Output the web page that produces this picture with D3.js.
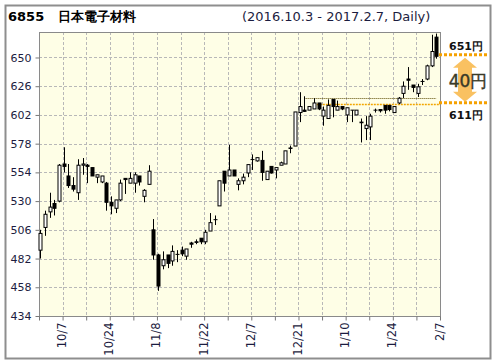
<!DOCTYPE html>
<html>
<head>
<meta charset="utf-8">
<script src="https://cdn.jsdelivr.net/npm/d3@7"></script>
<style>
body{margin:0;background:#fff}
svg{display:block}
text{font-family:"DejaVu Sans",Verdana,sans-serif}
</style>
</head>
<body>
<div id="vis"></div>
<script>
// trading days 2016.10.3 - 2017.2.7
var dates = ["10/3","10/4","10/5","10/6","10/7","10/11","10/12","10/13","10/14","10/17",
  "10/18","10/19","10/20","10/21","10/24","10/25","10/26","10/27","10/28","10/31",
  "11/1","11/2","11/4","11/7","11/8","11/9","11/10","11/11","11/14","11/15",
  "11/16","11/17","11/18","11/21","11/22","11/24","11/25","11/28","11/29","11/30",
  "12/1","12/2","12/5","12/6","12/7","12/8","12/9","12/12","12/13","12/14",
  "12/15","12/16","12/19","12/20","12/21","12/22","12/26","12/27","12/28","12/29",
  "12/30","1/4","1/5","1/6","1/10","1/11","1/12","1/13","1/16","1/17",
  "1/18","1/19","1/20","1/23","1/24","1/25","1/26","1/27","1/30","1/31",
  "2/1","2/2","2/3","2/6","2/7"]

var open  = [489,508,521,528,530,561,551,543,537,560, 560,558,550,546,545,529,524,531,549,545,
             545,551,534,544,506,485,476,485,480,485.5, 489,484,495,496,499,496,505,514.5,526,555,
             551,556,544,547,553.5,564.7,563.6,564,548,559, 556,560,561,574.4,576,604,606,606,607,612,
             601,599,615,606,609,602,606,602,596,590.6, 592,606,606.5,610,610,604,612,620,632,627,
             620,630,632,643,667]
var high  = [506,522,537,531,561,575,561,550,565,566, 561,558,552,551,546,534,531,548,549,554,
             554,551,540,560,515,486,488,485,493,489, 492,490,496,498,499,506,520,518,547,555,
             577,556,549,553,560.5,569,566.3,572,555,559, 558,563,572,576.4,604.5,621,617.6,609,616,612,
             609,615,615,614,609,608,606,606,599,601, 603,607.3,606.5,610,610,609,617,630,642,627,
             628,632,644,669,670]
var low   = [482,501,516,518,529,554,541,538,531,552, 545,551,545,545,522,519,520,530,536,545,
             537,543,529,544,481,455,473,474,476,479, 484,481,491,494,494,494,505,510,526,538,
             551,551,539,544,550,556,563,547,548,553, 549,560,561,570,576,596,604.5,606,607,606,
             593,599,600,606,606,596,596,602,579,581, 581,604,604,603,605,604,611,616,623,621,
             617,627,631,642,649]
var close = [503,519,525,524,560,559,543,540,560,561, 559,551,552,551,529,526,531,545,548,549,
             552,546,539,555,485,459,481,478,488,485.5, 486,490,494,495.5,496,504,512,514.5,547,545,
             556,551,547,550,560.5,564.7,566.3,554,555,553.5, 558,562,572,574,604.5,609,605,609,612,607,
             606,610,609,609,607,608,606,606,595.5,593.4, 601,606,605.5,606,606.5,609,616,626,631,625,
             625.5,630,643,655,651]

var yTicks = [434,458,482,506,530,554,578,602,626,650]
// dotted price levels drawn inside the plot
var levelPrice = [616.5, 611]
var levelStart = [56, 58]
var rangeHi = 651, rangeLo = 611

var w = 496, h = 364
var pLeft = 39, pRight = 440, pTop = 32, pBottom = 316

var svg = d3.select("#vis").append("svg")
    .attr("width", w)
    .attr("height", h)

// outer frame
svg.append("rect")
   .attr("x", 5.5).attr("y", 5.5)
   .attr("width", 485).attr("height", 353)
   .attr("fill", "#fff")
   .attr("stroke", "#8e8e8e")
   .attr("stroke-width", 2)

const x = d3.scaleLinear()
    .domain([-0.25, dates.length - 0.25])
    .range([pLeft, pRight])
const y = d3.scaleLinear()
    .domain([434, 671.3])
    .range([pBottom, pTop])

// tick slots every 5 trading days, sitting on the right edge of a candle slot
var tickPos = d3.range(-1, dates.length, 5).map(d => d + 0.75)

svg.append("rect")
   .attr("x", pLeft).attr("y", pTop)
   .attr("width", pRight - pLeft).attr("height", pBottom - pTop)
   .attr("fill", "#fefee6")

var grid = svg.append("g")
   .attr("stroke", "#b8b8b8")
   .attr("stroke-dasharray", "3,2")
grid.selectAll(".vg")
   .data(tickPos.slice(1, -1))
   .enter().append("line")
   .attr("x1", d => Math.round(x(d)) + 0.5).attr("x2", d => Math.round(x(d)) + 0.5)
   .attr("y1", pTop).attr("y2", pBottom)
grid.selectAll(".hg")
   .data(yTicks.slice(1))
   .enter().append("line")
   .attr("x1", pLeft).attr("x2", pRight)
   .attr("y1", d => Math.round(y(d)) + 0.5).attr("y2", d => Math.round(y(d)) + 0.5)

svg.append("rect")
   .attr("x", pLeft + 0.5).attr("y", pTop + 0.5)
   .attr("width", pRight - pLeft).attr("height", pBottom - pTop)
   .attr("fill", "none")
   .attr("stroke", "#8a8a8a")

// axes
const yAxis = svg.append("g")
   .attr("transform", `translate(${pLeft + 0.5},0)`)
   .call(d3.axisLeft(y).tickValues(yTicks).tickSize(4).tickPadding(4))
yAxis.select(".domain").remove()
yAxis.selectAll("line").attr("stroke", "#777")
yAxis.selectAll("text")
   .attr("fill", "#1c1c40")
   .style("font-size", "11px")
   .style("font-family", "DejaVu Sans, Verdana, sans-serif")

const xAxis = svg.append("g")
   .attr("transform", `translate(0,${pBottom + 0.5})`)
   .call(d3.axisBottom(x).tickValues(tickPos).tickSize(4)
      .tickFormat(d => {
          var k = Math.round(d - 0.75)
          return (k >= 4 && (k - 4) % 10 == 0) ? dates[k] : ""
      }))
xAxis.select(".domain").remove()
xAxis.selectAll("line").attr("stroke", "#777")
xAxis.selectAll("text")
   .attr("fill", "#1c1c40")
   .attr("transform", "rotate(-90)")
   .attr("x", -6)
   .attr("y", -1)
   .attr("dy", "0.35em")
   .style("text-anchor", "end")
   .style("font-size", "11.5px")
   .style("font-family", "DejaVu Sans, Verdana, sans-serif")

// price levels
svg.selectAll(".lvl")
   .data(levelPrice)
   .enter().append("line")
   .attr("x1", (d, i) => x(levelStart[i]))
   .attr("x2", (d, i) => i == 0 ? x(dates.length - 1) : pRight)
   .attr("y1", d => Math.round(y(d)) + 0.5)
   .attr("y2", d => Math.round(y(d)) + 0.5)
   .attr("stroke", (d, i) => i == 0 ? "#5a4a00" : "#f2a600")
   .attr("stroke-width", (d, i) => i == 0 ? 1 : 1.5)
   .attr("stroke-dasharray", (d, i) => i == 0 ? "1,1" : "2,1")

// candles
var cx = i => Math.round(x(i)) + 0.5
var candles = svg.selectAll(".c")
   .data(dates)
   .enter().append("g")

candles.append("line")
   .attr("x1", (d, i) => cx(i)).attr("x2", (d, i) => cx(i))
   .attr("y1", (d, i) => y(high[i]))
   .attr("y2", (d, i) => y(low[i]))
   .attr("stroke", "#000")

candles.append("rect")
   .attr("x", (d, i) => cx(i) - 1.5)
   .attr("width", 3)
   .attr("y", (d, i) => y(Math.max(open[i], close[i])))
   .attr("height", (d, i) => Math.max(0.01, Math.abs(y(open[i]) - y(close[i]))))
   .attr("fill", (d, i) => close[i] > open[i] ? "#fff" : "#000")
   .attr("stroke", "#000")

// range annotation on the right
var ann = svg.append("g")
var ax = 465
var yh = y(rangeHi) - 1.5, yl = y(rangeLo) - 1.5
ann.append("path")
   .attr("d", `M${ax},${yh + 3} L${ax + 12},${yh + 13} L${ax + 7},${yh + 13} L${ax + 7},${yl - 11}
               L${ax + 12},${yl - 11} L${ax},${yl - 1} L${ax - 12},${yl - 11} L${ax - 7},${yl - 11}
               L${ax - 7},${yh + 13} L${ax - 12},${yh + 13} Z`)
   .attr("fill", "#f8b23a")
   .attr("opacity", 0.8)

ann.selectAll(".dots")
   .data([yh, yl])
   .enter().append("line")
   .attr("x1", 439).attr("x2", 487)
   .attr("y1", d => d).attr("y2", d => d)
   .attr("stroke", "#f5a100")
   .attr("stroke-width", 3)
   .attr("stroke-dasharray", "3,2")

ann.append("text")
   .attr("x", 466).attr("y", 50)
   .attr("text-anchor", "middle")
   .style("font-size", "11px").style("font-weight", "bold")
   .attr("fill", "#111")
   .text(rangeHi + "円")
ann.append("text")
   .attr("x", 466).attr("y", 119)
   .attr("text-anchor", "middle")
   .style("font-size", "11px").style("font-weight", "bold")
   .attr("fill", "#111")
   .text(rangeLo + "円")
ann.append("text")
   .attr("x", 468).attr("y", 86.5)
   .attr("text-anchor", "middle")
   .style("font-size", "17px")
   .attr("fill", "#3a3a28")
   .attr("stroke", "#3a3a28").attr("stroke-width", 0.4)
   .text((rangeHi - rangeLo) + "円")

// titles
svg.append("text")
   .attr("x", 8).attr("y", 21)
   .style("font-size", "13px").style("font-weight", "bold")
   .attr("fill", "#000")
   .text("6855\u00a0\u00a0 日本電子材料")
svg.append("text")
   .attr("x", 242).attr("y", 21)
   .style("font-size", "13px")
   .attr("fill", "#1c1c40")
   .text("(2016.10.3 - 2017.2.7, Daily)")
</script>
</body>
</html>
